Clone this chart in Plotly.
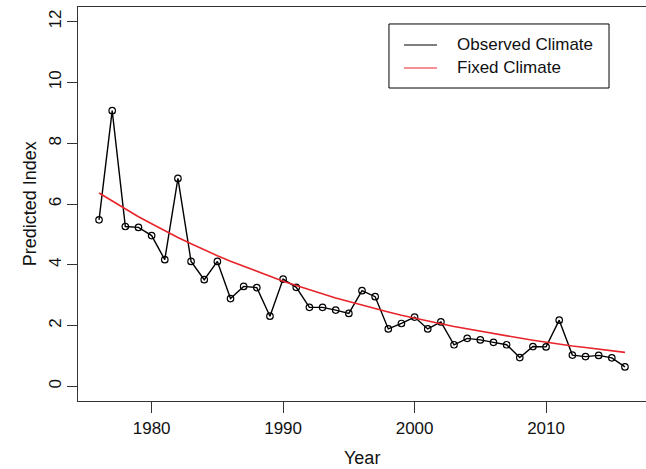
import plotly.graph_objects as go

# years 1976-2016
years = list(range(1976, 2017))

# predicted index, observed climate
observed = [5.48, 9.07, 5.26, 5.23, 4.96, 4.17, 6.84, 4.11, 3.51, 4.11,
            2.89, 3.29, 3.25, 2.31, 3.53, 3.26, 2.60, 2.60, 2.51, 2.40,
            3.15, 2.95, 1.89, 2.07, 2.28, 1.89, 2.12, 1.37, 1.58, 1.53,
            1.45, 1.37, 0.95, 1.31, 1.30, 2.18, 1.03, 0.98, 1.02, 0.94,
            0.64]

# predicted index, fixed climate (smooth red curve)
fixed = [6.36, 6.09, 5.83, 5.58, 5.35, 5.12, 4.90, 4.69, 4.49, 4.30,
         4.12, 3.95, 3.78, 3.62, 3.46, 3.32, 3.18, 3.04, 2.91, 2.79,
         2.67, 2.56, 2.45, 2.34, 2.24, 2.15, 2.06, 1.97, 1.89, 1.81,
         1.73, 1.66, 1.59, 1.52, 1.45, 1.39, 1.33, 1.28, 1.22, 1.17,
         1.12]

x_ticks = [1980, 1990, 2000, 2010]
y_ticks = [0, 2, 4, 6, 8, 10, 12]
legend_names = ['Observed Climate', 'Fixed Climate']

font = 'Liberation Sans, Arial, sans-serif'

fig = go.Figure()
fig.add_trace(go.Scatter(
    x=years, y=observed, mode='lines+markers', name=legend_names[0],
    line=dict(color='black', width=1.4),
    marker=dict(symbol='circle-open', size=6.5, color='black', line=dict(width=1.2)),
    showlegend=False,
))
fig.add_trace(go.Scatter(
    x=years, y=fixed, mode='lines', name=legend_names[1],
    line=dict(color='#e8242a', width=1.6),
    showlegend=False,
))

# legend box drawn by hand, R style
fig.add_shape(type='rect', xref='paper', yref='paper',
              x0=0.5475, x1=0.9349, y0=0.7944, y1=0.9569,
              line=dict(color='black', width=1), fillcolor='white')
for yy, name, col in [(0.9036, legend_names[0], 'black'),
                      (0.8452, legend_names[1], '#e8242a')]:
    fig.add_shape(type='line', xref='paper', yref='paper',
                  x0=0.5739, x1=0.6320, y0=yy, y1=yy,
                  line=dict(color=col, width=1.2))
    fig.add_annotation(xref='paper', yref='paper', x=0.6637, y=yy,
                       text=name, showarrow=False, xanchor='left', yanchor='middle',
                       font=dict(family=font, size=17, color='#111'))

# axis titles placed like R's mtext
fig.add_annotation(xref='paper', yref='paper', x=0.5, y=-0.145, yanchor='middle',
                   text='Year', showarrow=False, font=dict(family=font, size=18, color='#111'))
fig.add_annotation(xref='paper', yref='paper', x=-0.084, y=0.5, xanchor='center',
                   text='Predicted Index', textangle=-90, showarrow=False,
                   font=dict(family=font, size=18, color='#111'))

fig.update_layout(
    width=646, height=469,
    margin=dict(l=78, r=0, t=7, b=68),
    plot_bgcolor='white', paper_bgcolor='white',
    font=dict(family=font, size=17, color='#111'),
    xaxis=dict(
        range=[1974.4, 2017.6], tickvals=x_ticks, showgrid=False, zeroline=False,
        showline=True, linecolor='#333', linewidth=1.2, mirror=True,
        ticks='outside', ticklen=11, tickcolor='#333', automargin=False,
    ),
    yaxis=dict(
        range=[-0.48, 12.48], tickvals=y_ticks, showgrid=False, zeroline=False,
        showline=True, linecolor='#333', linewidth=1.2,
        ticks='outside', ticklen=10, tickcolor='#333', tickangle=-90, automargin=False,
        ticklabelstandoff=-1,
    ),
)

# the page body has a default margin; drop it so the figure sits at the corner
fig.write_html('out.html', config={'displayModeBar': False},
               post_script="document.body.style.margin='0px';")
